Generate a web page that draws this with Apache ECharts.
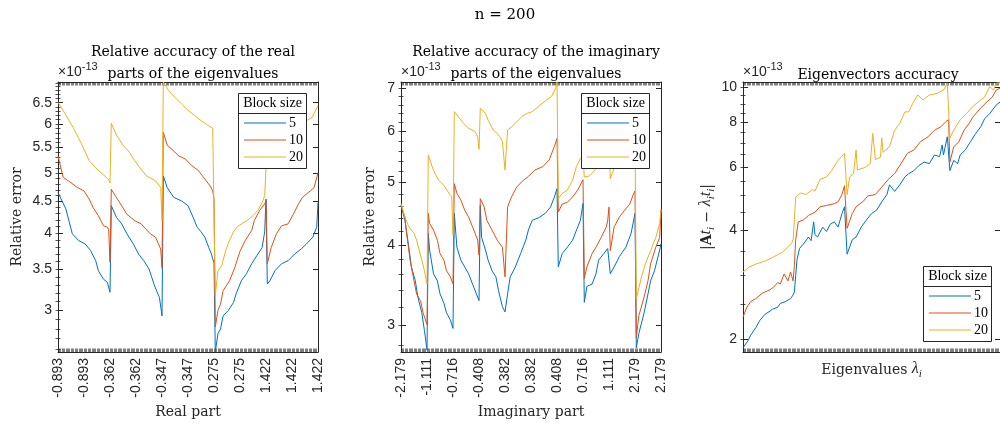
<!DOCTYPE html>
<html><head><meta charset="utf-8">
<script src="https://cdn.jsdelivr.net/npm/echarts@6/dist/echarts.min.js"></script>
<style>html,body{margin:0;padding:0;background:#fff}#c{width:1000px;height:425px}</style>
</head><body><div id="c"></div>
<script>
// ---------- data (values in units of 1e-13) ----------
const seriesNames = ['5', '10', '20'];
const seriesColors = ['#0072BD', '#D95319', '#EDB120'];
const realTickLabels = ['-0.893','-0.893','-0.362','-0.362','-0.347','-0.347','0.275','0.275','1.422','1.422','1.422'];
const imagTickLabels = ['-2.179','-1.111','-0.716','-0.408','0.382','0.382','0.408','0.716','1.111','2.179','2.179'];
const realYTicks = [3, 3.5, 4, 4.5, 5, 5.5, 6, 6.5];
const imagYTicks = [3, 4, 5, 6, 7];
const vecYTicks = [2, 4, 6, 8, 10];

const real5 = [[0,4.65],[6,4.38],[11,3.99],[16,3.89],[21,3.84],[25,3.75],[29,3.61],[31,3.48],[35,3.37],[38,3.33],[40,3.21],[41,4.43],[45,4.24],[49,4.14],[53,3.99],[58,3.84],[62,3.70],[66,3.61],[70,3.50],[72,3.40],[74,3.30],[76,3.22],[78,3.15],[80,2.94],[81,4.95],[84,4.74],[89,4.57],[95,4.51],[100,4.43],[104,4.24],[107,4.09],[110,4.02],[113,3.94],[116,3.79],[118,3.70],[120,3.58],[121,2.57],[123,2.75],[125,2.80],[127,2.94],[131,3.00],[135,3.09],[137,3.19],[141,3.35],[145,3.44],[149,3.57],[153,3.68],[157,3.79],[159,4.02],[160,4.54],[161,3.31],[163,3.35],[167,3.48],[172,3.57],[177,3.61],[182,3.70],[187,3.77],[191,3.84],[196,3.94],[199,4.09],[200,4.48]];
const real10 = [[0,5.33],[4,4.92],[8,4.86],[15,4.74],[20,4.68],[24,4.54],[27,4.40],[31,4.27],[35,4.11],[38,4.09],[39,4.05],[40,3.59],[41,4.71],[44,4.60],[49,4.43],[53,4.29],[59,4.19],[64,4.14],[71,3.99],[75,3.94],[79,3.77],[80,3.51],[81,5.82],[84,5.55],[87,5.48],[93,5.33],[98,5.27],[103,5.14],[108,5.05],[112,4.92],[117,4.77],[119,4.68],[120,4.55],[121,2.82],[123,3.00],[125,3.07],[127,3.23],[132,3.35],[136,3.52],[140,3.74],[144,3.89],[149,4.04],[151,4.19],[155,4.35],[159,4.46],[160,4.51],[161,3.57],[164,3.79],[168,3.99],[172,4.11],[177,4.14],[181,4.29],[185,4.46],[188,4.57],[194,4.68],[197,4.74],[200,5.01]];
const real20 = [[0,6.51],[6,6.21],[12,5.91],[18,5.58],[24,5.24],[29,5.10],[34,4.99],[39,4.88],[40,4.82],[41,6.02],[45,5.76],[50,5.55],[55,5.40],[59,5.24],[63,5.10],[68,4.95],[75,4.86],[79,4.74],[80,4.19],[81,7.02],[85,6.80],[90,6.63],[95,6.47],[100,6.32],[105,6.20],[110,6.08],[114,6.00],[119,5.91],[120,5.88],[121,3.17],[123,3.47],[126,3.55],[129,3.75],[132,3.90],[135,4.02],[138,4.10],[142,4.15],[146,4.20],[150,4.27],[154,4.36],[157,4.48],[159,4.60],[160,5.10],[161,5.30],[170,5.50],[180,5.75],[188,5.95],[192,6.10],[195,6.14],[197,6.25],[200,6.43]];

const imag5 = [[0,4.61],[3,4.37],[6,3.97],[8,3.70],[11,3.52],[13,3.32],[16,3.14],[18,2.95],[20,2.75],[21,4.17],[22,3.93],[25,3.61],[28,3.52],[30,3.36],[33,3.25],[35,3.14],[38,3.06],[40,2.97],[41,4.48],[43,3.97],[46,3.79],[49,3.70],[52,3.61],[55,3.48],[58,3.36],[60,3.28],[61,4.61],[62,4.11],[65,3.93],[67,3.79],[70,3.65],[73,3.57],[75,3.40],[78,3.21],[80,3.15],[82,3.36],[84,3.57],[88,3.70],[92,3.88],[96,4.07],[98,4.22],[101,4.37],[106,4.41],[111,4.48],[115,4.58],[118,4.75],[120,4.89],[121,3.70],[124,3.88],[128,3.97],[132,4.07],[136,4.27],[138,4.37],[140,4.64],[141,3.26],[143,3.45],[147,3.48],[150,3.61],[152,3.79],[156,3.88],[159,3.95],[160,3.97],[161,3.61],[164,3.70],[168,3.84],[173,3.97],[177,4.17],[180,4.48],[181,2.77],[183,2.92],[187,3.14],[190,3.36],[192,3.52],[195,3.65],[199,3.93],[200,4.02]];
const imag10 = [[0,4.61],[3,4.42],[4,4.22],[7,3.79],[10,3.52],[12,3.36],[15,3.28],[17,3.14],[20,3.01],[21,4.48],[22,4.32],[25,4.22],[28,4.07],[30,3.88],[33,3.79],[35,3.65],[38,3.57],[40,3.48],[41,4.98],[43,4.81],[46,4.70],[49,4.53],[52,4.42],[55,4.27],[57,4.17],[59,4.07],[60,3.86],[61,4.72],[64,4.58],[66,4.37],[70,4.22],[74,4.07],[78,3.97],[80,3.57],[82,4.58],[85,4.75],[89,4.92],[94,5.04],[98,5.11],[103,5.23],[109,5.29],[114,5.42],[118,5.69],[120,5.85],[121,4.50],[124,4.63],[128,4.66],[132,4.75],[136,4.87],[140,5.05],[141,3.55],[143,3.70],[147,3.88],[150,3.97],[154,4.11],[158,4.27],[159,4.37],[160,4.58],[161,3.92],[164,4.27],[168,4.42],[172,4.53],[176,4.63],[179,4.81],[180,4.85],[181,2.87],[183,3.11],[187,3.32],[190,3.52],[192,3.74],[196,3.97],[199,4.11],[200,4.53]];
const imag20 = [[0,4.64],[3,4.42],[6,4.27],[10,4.17],[12,4.07],[16,3.79],[18,3.65],[20,3.48],[21,5.52],[24,5.29],[26,5.17],[29,5.04],[33,4.95],[37,4.81],[39,4.75],[40,4.14],[41,6.44],[44,6.33],[48,6.18],[52,6.07],[57,6.00],[59,5.89],[60,5.63],[61,6.52],[65,6.40],[67,6.25],[71,6.03],[74,5.96],[76,5.89],[78,5.79],[80,5.23],[82,6.03],[85,6.10],[89,6.21],[93,6.33],[97,6.40],[101,6.44],[106,6.57],[111,6.69],[116,6.81],[119,7.00],[120,7.16],[121,4.72],[124,4.81],[128,4.87],[132,5.04],[135,5.30],[138,5.45],[140,5.50],[141,5.10],[145,5.12],[149,5.22],[153,5.45],[157,5.60],[160,5.70],[161,5.07],[163,5.20],[166,5.40],[170,5.60],[175,5.80],[180,5.90],[181,3.30],[185,3.57],[188,3.74],[192,3.92],[196,4.11],[199,4.32],[200,4.55]];

const vec5 = [[0,1.89],[4,1.98],[6,2.05],[10,2.15],[13,2.25],[17,2.34],[21,2.39],[23,2.42],[27,2.45],[29,2.51],[33,2.54],[37,2.59],[39,2.65],[40,2.70],[41,3.00],[42,3.32],[44,3.57],[47,3.67],[51,3.84],[53,3.75],[55,4.23],[56,3.90],[58,3.84],[62,4.09],[65,3.98],[68,4.17],[71,4.23],[74,4.09],[77,4.46],[79,4.66],[80,4.70],[81,3.44],[85,3.77],[88,3.84],[92,4.09],[96,4.28],[100,4.46],[104,4.56],[108,4.81],[112,5.04],[114,5.36],[118,5.14],[122,5.36],[126,5.64],[129,5.76],[133,5.87],[137,6.07],[141,6.20],[145,6.14],[149,6.49],[153,6.42],[155,6.92],[156,6.49],[159,7.29],[160,7.30],[161,5.87],[164,6.27],[167,6.14],[169,6.49],[173,6.70],[177,7.06],[181,7.44],[185,7.77],[188,8.18],[192,8.46],[197,8.93],[200,9.10]];
const vec10 = [[0,2.30],[3,2.45],[6,2.54],[10,2.59],[15,2.68],[21,2.74],[24,2.79],[27,2.87],[29,2.84],[32,3.03],[35,2.90],[37,3.07],[39,2.90],[40,3.20],[41,3.77],[43,4.23],[47,4.28],[51,4.41],[56,4.50],[60,4.66],[65,4.70],[71,4.75],[74,4.81],[77,5.04],[79,5.33],[80,5.33],[81,4.06],[85,4.46],[88,4.66],[94,4.84],[97,4.99],[103,5.04],[108,5.28],[113,5.55],[118,5.76],[123,6.14],[128,6.56],[133,6.70],[138,7.06],[144,7.29],[149,7.60],[154,7.77],[158,8.04],[160,8.13],[161,6.20],[164,6.84],[168,7.06],[172,7.60],[176,7.94],[179,8.28],[185,8.77],[190,9.12],[194,9.40],[197,9.83],[200,9.95]];
const vec20 = [[0,3.07],[5,3.17],[10,3.23],[17,3.29],[23,3.37],[31,3.49],[38,3.70],[39,3.77],[40,4.30],[41,4.96],[45,5.09],[49,5.04],[54,5.20],[56,5.15],[60,5.55],[65,5.64],[69,5.87],[74,6.27],[79,6.56],[80,6.60],[81,5.04],[83,5.64],[86,5.76],[87,5.80],[88,6.70],[89,5.90],[90,5.94],[95,5.99],[99,6.14],[100,6.15],[101,7.45],[102,7.50],[103,6.30],[107,6.40],[108,7.24],[109,6.60],[110,6.56],[114,6.84],[118,7.60],[122,7.94],[126,8.55],[129,8.55],[132,9.02],[136,9.52],[140,9.23],[145,9.52],[151,9.62],[156,9.83],[159,10.27],[160,10.30],[161,7.24],[164,7.60],[169,8.13],[174,8.46],[179,8.86],[185,9.23],[188,9.40],[192,10.05],[195,9.83],[197,10.27],[200,10.30]];

// ---------- styling / layout ----------
const INK = '#262626';
const SERIF = 'DejaVu Serif';
const LSERIF = 'Liberation Serif';
const SANS = 'Liberation Sans';
const GRID_TOP = 82, GRID_H = 270, GRID_W = 260;
const gridLefts = [58, 401, 743];

function range(a, b, step) { const r = []; for (let v = a; v <= b + 1e-9; v += step) r.push(+v.toFixed(3)); return r; }
const allIdx = range(0, 200, 1);
const labelIdx = range(0, 200, 20);

const panels = [
  { data: [real5, real10, real20], xLabels: realTickLabels, xName: 'Real part', yName: 'Relative error',
    yMin: 2.57, yMax: 7.02, yMajor: realYTicks, yMinor: range(2.6, 7.0, 0.1),
    title: 'Relative accuracy of the real\nparts of the eigenvalues', titleTop: 36, yNameGap: 34 },
  { data: [imag5, imag10, imag20], xLabels: imagTickLabels, xName: 'Imaginary part', yName: 'Relative error',
    yMin: 2.73, yMax: 7.16, yMajor: imagYTicks, yMinor: range(2.8, 7.0, 0.2),
    title: 'Relative accuracy of the imaginary\nparts of the eigenvalues', titleTop: 36, yNameGap: 24 },
  { data: [vec5, vec10, vec20], xLabels: null, xName: '{n|Eigenvalues }{it|λ}{sub|i}',
    yName: '{t||}{b|A}{it|t}{sub|i}{t| − }{it|λ}{sub|i}{it|t}{sub|i}{t||}',
    yMin: 1.84, yMax: 10.35, yMajor: vecYTicks, yMinor: range(2, 10, 0.5),
    title: 'Eigenvectors accuracy', titleTop: 59, yNameGap: 26 }
];

const mathRich = {
  n: { fontFamily: SERIF, fontSize: 14, color: INK, verticalAlign: 'bottom', padding: [0, 0, 3, 0] },
  t: { fontFamily: SERIF, fontSize: 14, color: INK, verticalAlign: 'bottom', padding: [0, 0, 3, 0] },
  b: { fontFamily: SERIF, fontSize: 14, fontWeight: 'bold', color: INK, verticalAlign: 'bottom', padding: [0, 0, 3, 0] },
  it: { fontFamily: LSERIF, fontSize: 16, fontStyle: 'italic', color: INK, verticalAlign: 'bottom', padding: [0, 0, 3, 0] },
  sub: { fontFamily: LSERIF, fontSize: 11, fontStyle: 'italic', color: INK, verticalAlign: 'bottom' }
};
const expRich = {
  a: { fontFamily: SANS, fontSize: 14, color: INK, verticalAlign: 'bottom' },
  e: { fontFamily: SANS, fontSize: 11, color: INK, verticalAlign: 'bottom', padding: [0, 0, 7, 0] }
};

const grids = [], xAxes = [], yAxes = [], series = [], titles = [], legends = [], graphics = [];
titles.push({ text: 'n = 200', left: 500, textAlign: 'center', top: 3,
  textStyle: { fontFamily: SERIF, fontSize: 15, fontWeight: 'normal', color: '#000' } });

panels.forEach((p, i) => {
  const left = gridLefts[i];
  grids.push({ left: left, top: GRID_TOP, width: GRID_W, height: GRID_H, containLabel: false });
  const tickStyle = { color: INK, width: 0.6 };
  xAxes.push({
    type: 'value', gridIndex: i, min: 0, max: 200, position: 'bottom',
    axisLine: { show: true, onZero: false, lineStyle: { color: INK, width: 1 } },
    axisTick: { show: true, inside: true, length: 3.5, customValues: allIdx, lineStyle: tickStyle },
    axisLabel: p.xLabels ? { show: true, customValues: labelIdx, rotate: 90, margin: 6,
      fontFamily: SANS, fontSize: 14, color: INK,
      formatter: v => p.xLabels[Math.round(v / 20)] } : { show: false },
    splitLine: { show: false },
    name: p.xName, nameLocation: 'middle', nameGap: p.xLabels ? 53 : 9,
    nameTextStyle: { fontFamily: SERIF, fontSize: 14, color: INK, verticalAlign: 'top', rich: mathRich }
  });
  xAxes.push({
    type: 'value', gridIndex: i, min: 0, max: 200, position: 'top',
    axisLine: { show: true, onZero: false, lineStyle: { color: INK, width: 1 } },
    axisTick: { show: true, inside: true, length: 3.5, customValues: allIdx, lineStyle: tickStyle },
    axisLabel: { show: false }, splitLine: { show: false }
  });
  const yBase = { type: 'log', logBase: 10, gridIndex: i, min: p.yMin, max: p.yMax, splitLine: { show: false } };
  yAxes.push(Object.assign({}, yBase, {
    position: 'left',
    axisLine: { show: true, onZero: false, lineStyle: { color: INK, width: 1 } },
    axisTick: { show: true, inside: true, length: 5, customValues: p.yMajor, lineStyle: { color: INK, width: 1 } },
    axisLabel: { show: true, customValues: p.yMajor, margin: 6, fontFamily: SANS, fontSize: 14, color: INK,
      formatter: v => String(Number(Number(v).toPrecision(3))) },
    name: p.yName, nameLocation: 'middle', nameGap: p.yNameGap, nameRotate: 90,
    nameTextStyle: { fontFamily: SERIF, fontSize: 14, color: INK, rich: mathRich }
  }));
  yAxes.push(Object.assign({}, yBase, {
    position: 'left', axisLine: { show: false },
    axisTick: { show: true, inside: true, length: 2.5, customValues: p.yMinor, lineStyle: { color: INK, width: 0.8 } },
    axisLabel: { show: false },
    name: '{a|×10}{e|-13}', nameLocation: 'end', nameGap: 3,
    nameTextStyle: { align: 'left', verticalAlign: 'bottom', rich: expRich }
  }));
  yAxes.push(Object.assign({}, yBase, {
    position: 'right',
    axisLine: { show: true, onZero: false, lineStyle: { color: INK, width: 1 } },
    axisTick: { show: true, inside: true, length: 5, customValues: p.yMajor, lineStyle: { color: INK, width: 1 } },
    axisLabel: { show: false }
  }));
  yAxes.push(Object.assign({}, yBase, {
    position: 'right', axisLine: { show: false },
    axisTick: { show: true, inside: true, length: 2.5, customValues: p.yMinor, lineStyle: { color: INK, width: 0.8 } },
    axisLabel: { show: false }
  }));
  p.data.forEach((d, k) => {
    series.push({
      type: 'line', name: seriesNames[k], xAxisIndex: i * 2, yAxisIndex: i * 4, data: d,
      symbol: 'none', silent: true, clip: true,
      lineStyle: { color: seriesColors[k], width: 1 }, itemStyle: { color: seriesColors[k] },
      emphasis: { disabled: true }, z: 2 + k
    });
  });
  titles.push({ text: p.title, left: left + GRID_W / 2, textAlign: 'center', top: p.titleTop,
    textStyle: { fontFamily: SERIF, fontSize: 14, fontWeight: 'normal', color: '#000', lineHeight: 22 } });
});

// legends (box + header drawn as graphic, entries by the legend component)
const legendBoxes = [ { x: 238, y: 93 }, { x: 581, y: 93 }, { x: 923, y: 266 } ];
legendBoxes.forEach(b => {
  const w = 68, h = 75;
  graphics.push({ type: 'rect', z: 10, shape: { x: b.x + 0.5, y: b.y + 0.5, width: w, height: h },
    style: { fill: '#fff', stroke: INK, lineWidth: 1 } });
  graphics.push({ type: 'line', z: 11, shape: { x1: b.x + 0.5, y1: b.y + 20.5, x2: b.x + w + 0.5, y2: b.y + 20.5 },
    style: { stroke: INK, lineWidth: 1 } });
  graphics.push({ type: 'text', z: 11, x: b.x + w / 2 + 0.5, y: b.y + 10.5,
    style: { text: 'Block size', fontFamily: LSERIF, fontSize: 14, fill: '#000', align: 'center', verticalAlign: 'middle' } });
  legends.push({ left: b.x + 6, top: b.y + 23, orient: 'vertical', itemWidth: 42, itemHeight: 14, itemGap: 3,
    padding: 0, z: 20, selectedMode: false, data: seriesNames,
    icon: 'path://M0,0H42V1.1H0Z', symbolKeepAspect: true,
    textStyle: { fontFamily: LSERIF, fontSize: 14, color: '#000', padding: [0, 0, 0, -2] } });
});

const chart = echarts.init(document.getElementById('c'), null, { renderer: 'canvas' });
chart.setOption({
  animation: false, backgroundColor: '#fff',
  title: titles, grid: grids, xAxis: xAxes, yAxis: yAxes, series: series,
  legend: legends, graphic: { elements: graphics }, tooltip: { show: false }
});
</script></body></html>
